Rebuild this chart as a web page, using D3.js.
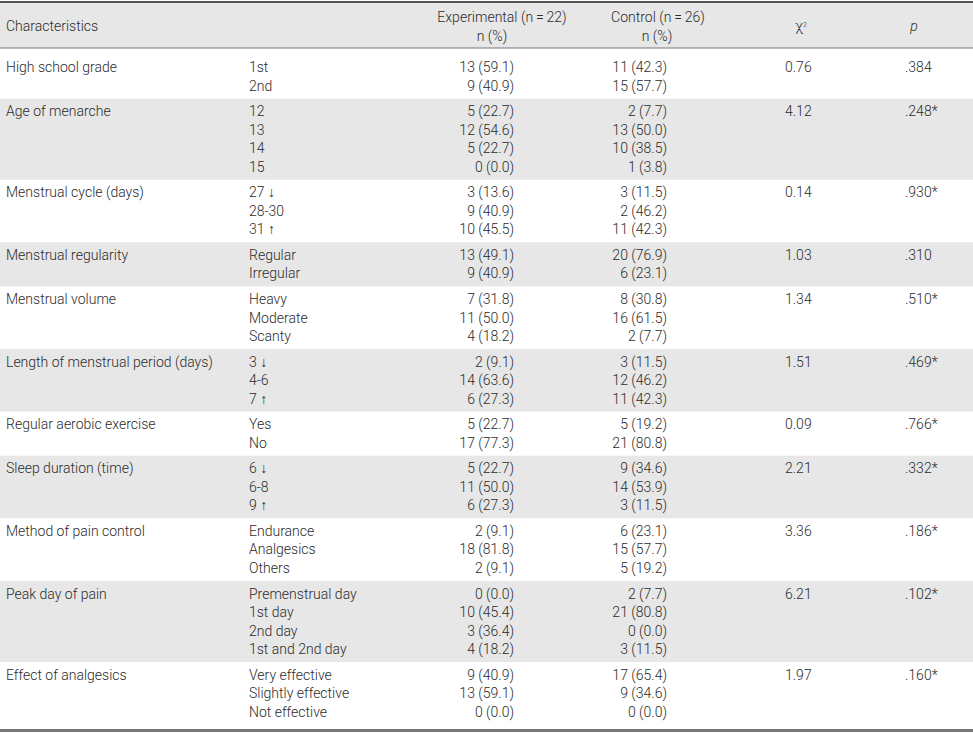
<!DOCTYPE html>
<html>
<head>
<meta charset="utf-8">
<script src="https://cdn.jsdelivr.net/npm/d3@7"></script>
<style>
  body { margin: 0; background: #fff; }
  text { font-family: Roboto, "Liberation Sans", sans-serif; font-weight: 300; font-size: 14px; fill: #2b2b2b; }
</style>
</head>
<body>
<div id="chart"></div>
<script>
var characteristics = ["High school grade", "Age of menarche", "Menstrual cycle (days)", "Menstrual regularity",
  "Menstrual volume", "Length of menstrual period (days)", "Regular aerobic exercise", "Sleep duration (time)",
  "Method of pain control", "Peak day of pain", "Effect of analgesics"];

var categories = [
  ["1st", "2nd"],
  ["12", "13", "14", "15"],
  ["27 \u2193", "28-30", "31 \u2191"],
  ["Regular", "Irregular"],
  ["Heavy", "Moderate", "Scanty"],
  ["3 \u2193", "4-6", "7 \u2191"],
  ["Yes", "No"],
  ["6 \u2193", "6-8", "9 \u2191"],
  ["Endurance", "Analgesics", "Others"],
  ["Premenstrual day", "1st day", "2nd day", "1st and 2nd day"],
  ["Very effective", "Slightly effective", "Not effective"]
];

var experimental = [
  ["13 (59.1)", "9 (40.9)"],
  ["5 (22.7)", "12 (54.6)", "5 (22.7)", "0 (0.0)"],
  ["3 (13.6)", "9 (40.9)", "10 (45.5)"],
  ["13 (49.1)", "9 (40.9)"],
  ["7 (31.8)", "11 (50.0)", "4 (18.2)"],
  ["2 (9.1)", "14 (63.6)", "6 (27.3)"],
  ["5 (22.7)", "17 (77.3)"],
  ["5 (22.7)", "11 (50.0)", "6 (27.3)"],
  ["2 (9.1)", "18 (81.8)", "2 (9.1)"],
  ["0 (0.0)", "10 (45.4)", "3 (36.4)", "4 (18.2)"],
  ["9 (40.9)", "13 (59.1)", "0 (0.0)"]
];

var control = [
  ["11 (42.3)", "15 (57.7)"],
  ["2 (7.7)", "13 (50.0)", "10 (38.5)", "1 (3.8)"],
  ["3 (11.5)", "2 (46.2)", "11 (42.3)"],
  ["20 (76.9)", "6 (23.1)"],
  ["8 (30.8)", "16 (61.5)", "2 (7.7)"],
  ["3 (11.5)", "12 (46.2)", "11 (42.3)"],
  ["5 (19.2)", "21 (80.8)"],
  ["9 (34.6)", "14 (53.9)", "3 (11.5)"],
  ["6 (23.1)", "15 (57.7)", "5 (19.2)"],
  ["2 (7.7)", "21 (80.8)", "0 (0.0)", "3 (11.5)"],
  ["17 (65.4)", "9 (34.6)", "0 (0.0)"]
];

var chiSquare = ["0.76", "4.12", "0.14", "1.03", "1.34", "1.51", "0.09", "2.21", "3.36", "6.21", "1.97"];
var pValues = [".384", ".248*", ".930*", ".310", ".510*", ".469*", ".766*", ".332*", ".186*", ".102*", ".160*"];

var width = 973, height = 733;
var tableTop = 2, headerBottom = 48, tableBottom = 729;
var lineH = 18.5,      // spacing of sub lines inside a row
    rowGap = 7.1,      // extra space between two rows
    firstOffset = 19.3;

// row layout built from the number of sub lines
var rows = [];
var yc = headerBottom + firstOffset;
var half = (lineH + rowGap) / 2;
categories.forEach(function(c, i) {
  var first = yc, last = yc + (c.length - 1) * lineH;
  rows.push({ i: i, first: first, top: i === 0 ? headerBottom : first - half,
              bottom: i === categories.length - 1 ? tableBottom : last + half });
  yc = last + lineH + rowGap;
});

var svg = d3.select("#chart").append("svg")
  .attr("width", width)
  .attr("height", height);

svg.append("rect").attr("width", width).attr("height", height).attr("fill", "#fff");

// header band
svg.append("rect")
  .attr("x", 0).attr("y", tableTop)
  .attr("width", width).attr("height", headerBottom - tableTop)
  .attr("fill", "#e7e7e7");

// striped rows
svg.selectAll("rect.band")
  .data(rows.filter(function(r) { return r.i % 2 === 1; }))
  .enter().append("rect")
  .attr("class", "band")
  .attr("x", 0)
  .attr("y", function(r) { return r.top; })
  .attr("width", width)
  .attr("height", function(r) { return r.bottom - r.top; })
  .attr("fill", "#e7e7e7");

// rules
svg.append("line").attr("x1", 0).attr("x2", width).attr("y1", tableTop).attr("y2", tableTop)
  .attr("stroke", "#555").attr("stroke-width", 2);
svg.append("line").attr("x1", 0).attr("x2", width).attr("y1", headerBottom).attr("y2", headerBottom)
  .attr("stroke", "#777").attr("stroke-width", 1);
svg.append("line").attr("x1", 0).attr("x2", width).attr("y1", tableBottom + 1.5).attr("y2", tableBottom + 1.5)
  .attr("stroke", "#777").attr("stroke-width", 3);

// header text
var hy = 26;
svg.append("text").attr("x", 6).attr("y", hy).attr("dy", "0.35em").text("Characteristics");
svg.append("text").attr("x", 502).attr("y", hy - 8.5).attr("dy", "0.35em").attr("text-anchor", "middle")
  .text("Experimental (n\u2009=\u200922)");
svg.append("text").attr("x", 492).attr("y", hy + 10.5).attr("dy", "0.35em").attr("text-anchor", "middle")
  .text("n (%)");
svg.append("text").attr("x", 658).attr("y", hy - 8.5).attr("dy", "0.35em").attr("text-anchor", "middle")
  .text("Control (n\u2009=\u200926)");
svg.append("text").attr("x", 657).attr("y", hy + 10.5).attr("dy", "0.35em").attr("text-anchor", "middle")
  .text("n (%)");
var chi = svg.append("text").attr("x", 801).attr("y", hy).attr("dy", "0.35em").attr("text-anchor", "middle")
  .style("font-size", "15px");
chi.append("tspan").text("\u03c7");
chi.append("tspan").attr("dy", "-0.55em").style("font-size", "7px").text("2");
svg.append("text").attr("x", 914).attr("y", hy).attr("dy", "0.35em").attr("text-anchor", "middle")
  .style("font-style", "italic").text("p");

// body
var g = svg.selectAll("g.row")
  .data(rows)
  .enter().append("g")
  .attr("class", "row")
  .attr("transform", function(r) { return "translate(0," + r.first + ")"; });

g.append("text").attr("x", 6).attr("dy", "0.35em")
  .text(function(r) { return characteristics[r.i]; });
g.append("text").attr("x", 785).attr("dy", "0.35em")
  .text(function(r) { return chiSquare[r.i]; });
g.append("text").attr("x", 905).attr("dy", "0.35em")
  .text(function(r) { return pValues[r.i]; });

g.each(function(r) {
  var row = d3.select(this);
  categories[r.i].forEach(function(c, k) {
    var ly = k * lineH;
    row.append("text").attr("x", 249).attr("y", ly).attr("dy", "0.35em").text(c);
    row.append("text").attr("x", 514).attr("y", ly).attr("dy", "0.35em").attr("text-anchor", "end")
      .text(experimental[r.i][k]);
    row.append("text").attr("x", 667).attr("y", ly).attr("dy", "0.35em").attr("text-anchor", "end")
      .text(control[r.i][k]);
  });
});
</script>
</body>
</html>
